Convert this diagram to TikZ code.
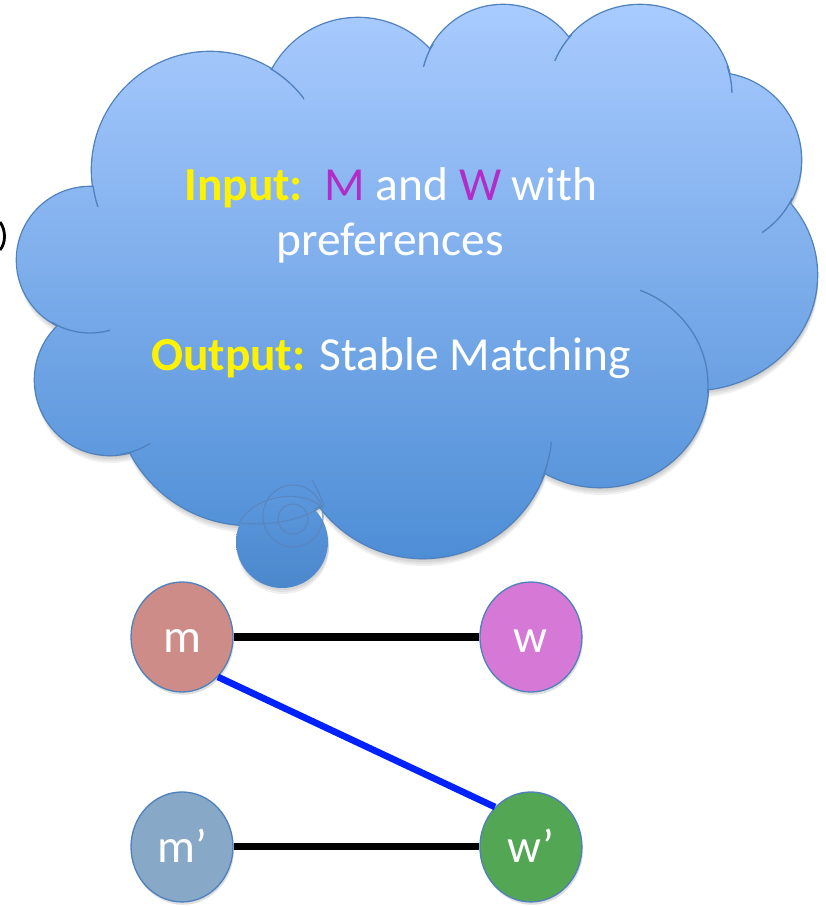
\documentclass[tikz,border=0pt]{standalone}
\usepackage{fontspec}
\setmainfont{Carlito}
\usepackage{tikz}
\usetikzlibrary{shapes.geometric,shadows}

\definecolor{cloudtop}{HTML}{A9CBFF}
\definecolor{cloudbot}{HTML}{4E8ED6}
\definecolor{cloudline}{HTML}{4F81BD}
\definecolor{swirl}{HTML}{5A86BF}
\definecolor{mcol}{HTML}{CD8C87}
\definecolor{wcol}{HTML}{D678D6}
\definecolor{mpcol}{HTML}{88A8C8}
\definecolor{wpcol}{HTML}{53A653}
\definecolor{setcol}{HTML}{B22CC8}
\definecolor{pairblue}{HTML}{0022FF}

% lobes of the thought cloud: cx/cy/rx/ry (pixels)
\def\lobes{90/260/73/73, 210/170/118/118, 358/115/97/97, 503/87/82/82,
  640/95/92/90, 714/160/87/87, 692/275/125/115, 600/385/108/102,
  423/429/129/129, 250/390/135/135, 110/380/75/75}

\begin{document}
\begin{tikzpicture}[x=0.02cm,y=-0.02cm,node distance=6.98cm,semithick]
  \tikzstyle{agent}=[ellipse,draw=cloudline,line width=0.75pt,
                     minimum width=2.04cm,minimum height=2.2cm,
                     text=white,font=\fontsize{27}{32}\selectfont,
                     text height=21pt,text depth=3pt,
                     drop shadow={opacity=0.25,shadow xshift=0.6pt,shadow yshift=-1.6pt}]
  \tikzstyle{cloudtext}=[text=white,font=\fontsize{27}{32}\selectfont,
                         anchor=base,inner sep=0pt]

  \useasboundingbox (0,0) rectangle (825,906);

  % cloud
  \foreach \s in {2,4,6,8}
    \fill[black,opacity=0.06,shift={(1,\s)}] (420,280) ellipse [x radius=300,y radius=190]
        foreach \cx/\cy/\rx/\ry in \lobes {(\cx,\cy) ellipse [x radius=\rx,y radius=\ry]};
  \draw[cloudline,line width=1.5pt]
        foreach \cx/\cy/\rx/\ry in \lobes {(\cx,\cy) ellipse [x radius=\rx,y radius=\ry]};
  \shade[top color=cloudtop,bottom color=cloudbot] (420,280) ellipse [x radius=300,y radius=190]
        foreach \cx/\cy/\rx/\ry in \lobes {(\cx,\cy) ellipse [x radius=\rx,y radius=\ry]};
  \foreach \ax/\ay/\bx/\by/\cx/\cy/\rx/\ry in {
        270/60/304/100/210/170/118/118, 85/186/105/206/210/170/118/118,
        418/44/440/66/503/87/82/82, 552/34/572/60/640/95/92/90,
        718/66/740/92/640/95/92/90, 762/198/800/236/714/160/87/87,
        640/285/712/392/600/385/108/102, 540/442/556/478/423/429/129/129,
        120/438/150/460/110/380/75/75, 52/318/110/340/90/260/73/73} {
    \begin{scope}
      \clip (\ax,\ay) rectangle (\bx,\by);
      \draw[cloudline,line width=0.75pt] (\cx,\cy) ellipse [x radius=\rx,y radius=\ry];
    \end{scope}
  }

  % little bubble
  \foreach \s in {2,4,6}
    \fill[black,opacity=0.06] (283,542+\s) circle (46);
  \shade[top color=cloudbot!85!cloudtop,bottom color=cloudbot!95!black] (282,542) circle (46);
  \draw[swirl,line width=0.6pt] (293,519) circle (15) (293,516) circle [x radius=30,y radius=31];
  \draw[swirl,line width=0.6pt] (239,523) .. controls (255,495) and (300,488) .. (322,507);
  \draw[swirl,line width=0.6pt] (239,523) .. controls (270,526) and (300,521) .. (323,506);
  \draw[swirl,line width=0.6pt] (312,480) .. controls (318,490) .. (324,506);

  \node[cloudtext] (input) at (391,200)
        {\textcolor{yellow}{\textbf{Input:}}\ \ \textcolor{setcol}{M} and \textcolor{setcol}{W} with};
  \node[cloudtext] (prefs) at (390,255) {preferences};
  \node[cloudtext] (output) at (391,370)
        {\textcolor{yellow}{\textbf{Output:}} Stable Matching};

  % bit of a cut glyph at the left edge
  \draw[line width=1.6pt] (0,222) .. controls (6,230) and (6,243) .. (0,250);

  \node[agent,fill=mcol]  (m)  at (182,637)                   {m};
  \node[agent,fill=wcol]  (w)  [right of=m]                   {w};
  \node[agent,fill=mpcol] (m2) [below of=m,node distance=4.2cm] {m’};
  \node[agent,fill=wpcol] (w2) [right of=m2]                  {w’};

  \draw[line width=4pt]
        (m)  edge node {} (w)
        (m2) edge node {} (w2);
  \draw[pairblue,line width=3.8pt] (m.-48) -- (w2.132);
\end{tikzpicture}
\end{document}
